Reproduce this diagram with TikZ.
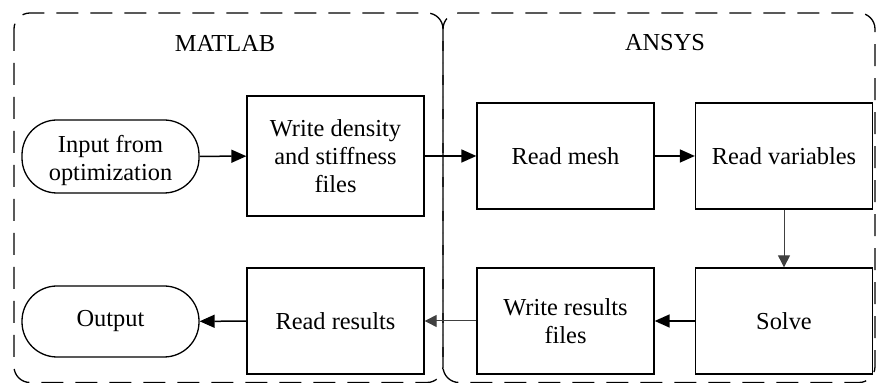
\documentclass[tikz,border=0pt]{standalone}
\usepackage{fontspec}
\setmainfont{Liberation Serif}
\usetikzlibrary{arrows.meta}
\begin{document}
\begin{tikzpicture}[x=0.5pt,y=-0.5pt,
  txt/.style={font=\fontsize{12.2}{14}\selectfont},
  box/.style={draw,line width=0.65pt,minimum width=88.5pt,minimum height=53pt,inner sep=0pt,align=center,txt},
  term/.style={box,rounded corners=17.5pt,minimum height=36pt},
  group/.style={draw,line width=0.65pt,dash pattern=on 11pt off 6pt,rounded corners=8pt},
  arr/.style={-{Triangle[length=7.5pt,width=6.5pt]},line width=0.75pt},
  thinarr/.style={-{Triangle[length=6pt,width=6pt]},line width=0.5pt,draw=black!75}]
\useasboundingbox (0,0) rectangle (877,383);
\draw[group] (14,13) rectangle (443,382.5);
\draw[group] (443,13) rectangle (875,382.5);
\node[txt] (matlab) at (225,43) {MATLAB};
\node[txt] (ansys) at (665,43) {ANSYS};
\node[term,minimum height=36.5pt] (in) at (110.5,156.5) {};
\node[txt,align=center,inner sep=0pt] (intext) at ([yshift=-2pt]in.center) {Input from\\optimization};
\node[box,minimum height=60pt] (wd) at (335.5,156) {Write density\\and stiffness\\files};
\node[box] (rm) at (565.5,156) {Read mesh};
\node[box] (rv) at (784,156) {Read variables};
\node[box] (sv) at (784,321) {Solve};
\node[box] (wr) at (565.5,321) {Write results\\files};
\node[box] (rr) at (335.5,321) {Read results};
\node[term,minimum height=35.5pt] (out) at (110.5,321.5) {Output};
\draw[arr] (in) -- (wd);
\draw[arr] (wd) -- (rm);
\draw[arr] (rm) -- (rv);
\draw[thinarr] (rv) -- (sv);
\draw[arr] (sv) -- (wr);
\draw[thinarr] (wr) -- (rr);
\draw[arr] (rr) -- (out);
\end{tikzpicture}
\end{document}
